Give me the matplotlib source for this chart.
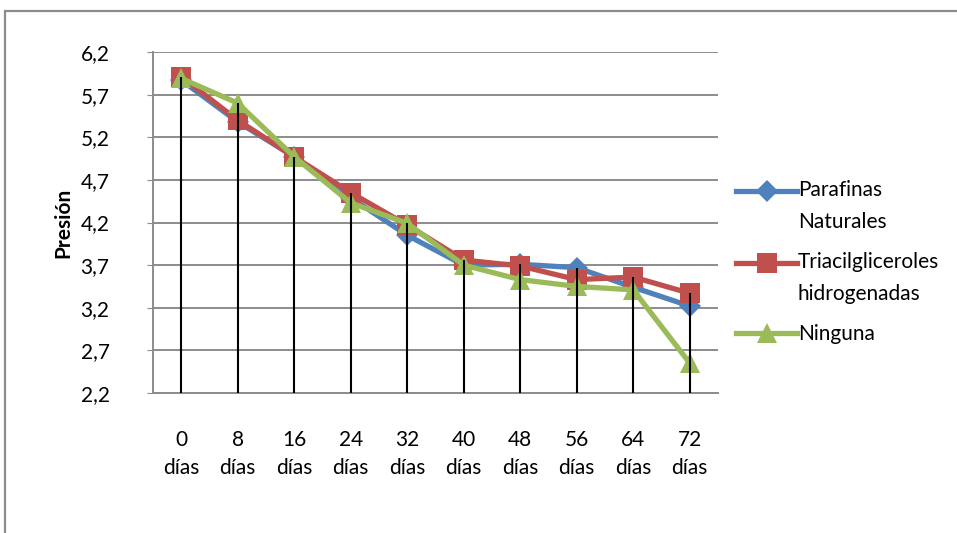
import matplotlib
matplotlib.use("Agg")
import matplotlib.pyplot as plt
from matplotlib.patches import Rectangle
from matplotlib.legend_handler import HandlerLine2D
import numpy as np

categories = ["0\ndías", "8\ndías", "16\ndías", "24\ndías", "32\ndías",
              "40\ndías", "48\ndías", "56\ndías", "64\ndías", "72\ndías"]
parafinas = [5.87, 5.38, 4.97, 4.49, 4.05, 3.70, 3.71, 3.67, 3.44, 3.22]
triacil = [5.91, 5.40, 4.97, 4.55, 4.17, 3.76, 3.69, 3.53, 3.56, 3.37]
ninguna = [5.89, 5.60, 4.97, 4.43, 4.19, 3.70, 3.53, 3.45, 3.41, 2.55]
series_names = ["Parafinas\nNaturales", "Triacilgliceroles\nhidrogenadas", "Ninguna"]
yticks = [2.2, 2.7, 3.2, 3.7, 4.2, 4.7, 5.2, 5.7, 6.2]
ytick_labels = ["2,2", "2,7", "3,2", "3,7", "4,2", "4,7", "5,2", "5,7", "6,2"]

plt.rcParams['font.family'] = ['Lato', 'DejaVu Sans']


class HandlerShift(HandlerLine2D):
    def __init__(self, dy, **kw):
        super().__init__(**kw)
        self.dy = dy

    def create_artists(self, legend, orig_handle, xdescent, ydescent, width,
                       height, fontsize, trans):
        arts = super().create_artists(legend, orig_handle, xdescent, ydescent,
                                      width, height, fontsize, trans)
        for a in arts:
            a.set_ydata(np.asarray(a.get_ydata(), dtype=float) + self.dy)
        return arts


fig = plt.figure(figsize=(9.57, 5.33), dpi=100)
fig.patches.append(Rectangle((5/957, -0.1), 1.2, (533-11)/533 + 0.1,
                             transform=fig.transFigure, fill=False,
                             edgecolor='#8c8c8c', linewidth=1.6))
ax = fig.add_axes([153/957, 1-393/533, (718-153)/957, (393-52)/533])

x = np.arange(len(categories))
colors = ['#4F81BD', '#C0504D', '#9BBB59']
markers = ['D', 's', '^']
msizes = [11, 14, 14]
lines = []
for vals, c, m, ms, name in zip([parafinas, triacil, ninguna], colors, markers, msizes, series_names):
    ln, = ax.plot(x, vals, color=c, marker=m, markersize=ms, linewidth=3.8,
                  label=name, zorder=3, markeredgewidth=0)
    lines.append(ln)

tops = np.max(np.array([parafinas, triacil, ninguna]), axis=0)
ax.vlines(x, yticks[0], tops, color='black', linewidth=1.5, zorder=4)

ax.set_xlim(-0.5, len(categories)-0.5)
ax.set_ylim(yticks[0], yticks[-1])
ax.set_yticks(yticks)
ax.set_yticklabels(ytick_labels, fontsize=15)
ax.set_xticks(x)
ax.set_xticklabels(categories, fontsize=15, linespacing=1.45)
ax.tick_params(axis='x', length=0, pad=27)
ax.tick_params(axis='y', length=4.3, color='#8c8c8c', pad=27)
ax.grid(axis='y', color='#8c8c8c', linewidth=1.4, zorder=0)
for s in ['top', 'right']:
    ax.spines[s].set_visible(False)
ax.spines['left'].set_color('#8c8c8c')
ax.spines['bottom'].set_color('#8c8c8c')
ax.spines['left'].set_linewidth(1.4)
ax.spines['bottom'].set_linewidth(1.4)
ax.set_axisbelow(True)

ax.set_ylabel("Presión", fontsize=15, fontweight='bold', labelpad=5)

hmap = {lines[0]: HandlerShift(11.0), lines[1]: HandlerShift(11.0), lines[2]: HandlerShift(0.0)}
leg = fig.legend(handles=lines, loc='upper left', bbox_to_anchor=(728/957, 1-172/533),
                 frameon=False, fontsize=15, handlelength=2.9,
                 handletextpad=0.05, labelspacing=1.0, borderaxespad=0,
                 handler_map=hmap)
for t in leg.get_texts():
    t.set_linespacing(1.7)

fig.savefig("out.png", dpi=100)
